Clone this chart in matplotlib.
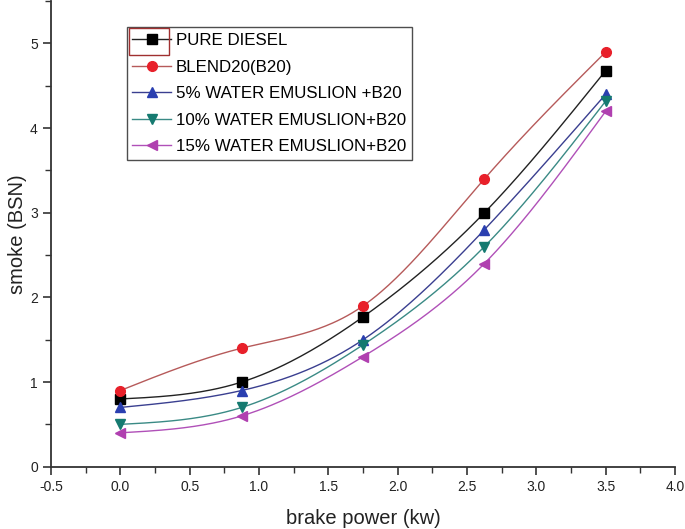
import matplotlib.pyplot as plt
import numpy as np
from matplotlib.patches import Rectangle

plt.rcParams['font.family'] = ['Liberation Sans', 'DejaVu Sans']
plt.rcParams['axes.unicode_minus'] = False

# data
power = [0.0, 0.875, 1.75, 2.625, 3.5]
pure_diesel = [0.8, 1.0, 1.77, 3.0, 4.68]
blend20 = [0.9, 1.4, 1.9, 3.4, 4.9]
water5 = [0.7, 0.9, 1.5, 2.8, 4.4]
water10 = [0.5, 0.7, 1.44, 2.6, 4.32]
water15 = [0.4, 0.6, 1.3, 2.4, 4.2]

labels = ['PURE DIESEL', 'BLEND20(B20)', '5% WATER EMUSLION +B20',
          '10% WATER EMUSLION+B20', '15% WATER EMUSLION+B20']


def spline(x, y, n=200):
    # natural cubic spline through the points, just for the smooth line
    x = np.asarray(x, float)
    y = np.asarray(y, float)
    k = len(x)
    h = np.diff(x)
    A = np.zeros((k, k))
    b = np.zeros(k)
    A[0, 0] = A[-1, -1] = 1
    for i in range(1, k - 1):
        A[i, i - 1] = h[i - 1]
        A[i, i] = 2 * (h[i - 1] + h[i])
        A[i, i + 1] = h[i]
        b[i] = 6 * ((y[i + 1] - y[i]) / h[i] - (y[i] - y[i - 1]) / h[i - 1])
    M = np.linalg.solve(A, b)
    xs = np.linspace(x[0], x[-1], n)
    idx = np.clip(np.searchsorted(x, xs) - 1, 0, k - 2)
    x0, x1 = x[idx], x[idx + 1]
    hh = x1 - x0
    t0, t1 = x1 - xs, xs - x0
    ys = (M[idx] * t0**3 + M[idx + 1] * t1**3) / (6 * hh) \
        + (y[idx] / hh - M[idx] * hh / 6) * t0 \
        + (y[idx + 1] / hh - M[idx + 1] * hh / 6) * t1
    return xs, ys


series = [pure_diesel, blend20, water5, water10, water15]
line_cols = ['#222222', '#b65a5a', '#3a3f90', '#3a8a85', '#b050b8']
mark_cols = ['#000000', '#e8202a', '#2a3fb0', '#157a70', '#b040b0']
markers = ['s', 'o', '^', 'v', '<']

fig = plt.figure(figsize=(6.85, 5.29), dpi=100)
ax = fig.add_axes([0.0745, 0.1178, 0.911, 0.880])

for vals, lc, mc, m, lab in zip(series, line_cols, mark_cols, markers, labels):
    xs, ys = spline(power, vals)
    ax.plot(xs, ys, color=lc, lw=1.0)
    ax.plot(power, vals, linestyle='none', marker=m, markersize=7,
            color=mc, markeredgecolor=mc)
    ax.plot([], [], color=lc, lw=1.0, marker=m, markersize=7,
            markerfacecolor=mc, markeredgecolor=mc, label=lab)

ax.set_xlim(-0.5, 4.0)
ax.set_ylim(0, 5.5)
ax.set_xticks(np.arange(-0.5, 4.01, 0.5))
ax.set_xticks(np.arange(-0.5, 4.01, 0.25), minor=True)
ax.set_yticks(range(0, 6))
ax.set_yticks(np.arange(0, 5.51, 0.5), minor=True)
ax.spines['top'].set_visible(False)
ax.spines['right'].set_visible(False)
for s in ['left', 'bottom']:
    ax.spines[s].set_linewidth(1.3)
    ax.spines[s].set_color('#333333')
ax.tick_params(which='major', length=6, width=1.2, labelsize=10, colors='#333333',
               labelcolor='#222222')
ax.tick_params(which='minor', length=4, width=1.0, colors='#333333')
ax.set_xlabel('brake power (kw)', fontsize=14.5, color='#222222', labelpad=11)
ax.set_ylabel('smoke (BSN)', fontsize=14.5, color='#222222', labelpad=2)

leg = ax.legend(loc='upper left', bbox_to_anchor=(0.121, 0.944), fontsize=12.2,
                frameon=True, fancybox=False, edgecolor='#222222',
                borderpad=0.35, labelspacing=0.68, handlelength=2.3,
                handletextpad=0.25, borderaxespad=0)
leg.get_frame().set_linewidth(1.0)

# selection box around the first legend symbol
fig.patches.append(Rectangle((129 / 685, 1 - 55 / 529), 40 / 685, 27 / 529,
                             transform=fig.transFigure, fill=False,
                             edgecolor='#a03030', lw=1.0))

fig.savefig('out.png', dpi=100)
